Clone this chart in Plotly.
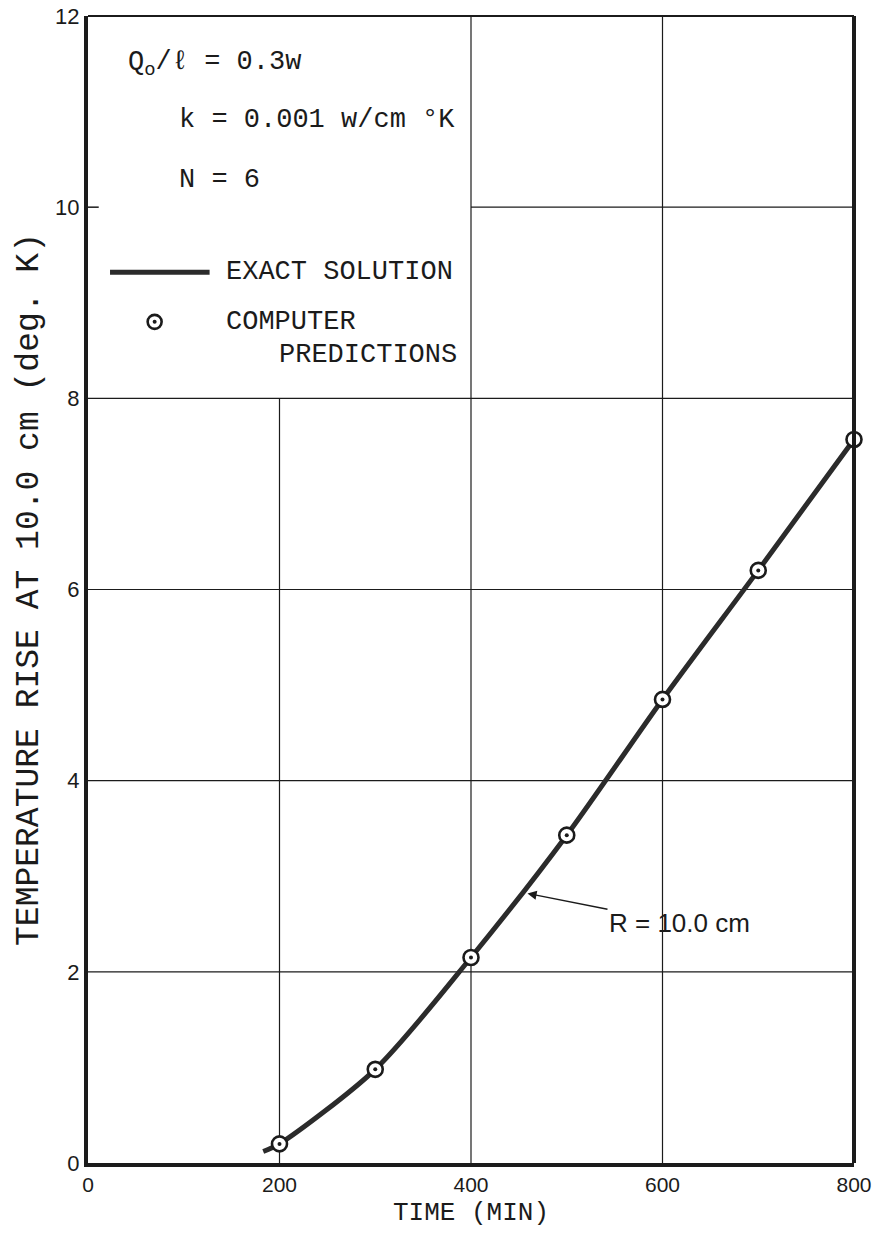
import plotly.graph_objects as go

# ---- data ----
time_min = [200, 300, 400, 500, 600, 700, 800]          # computer predictions (x)
temp_rise = [0.20, 0.98, 2.15, 3.43, 4.85, 6.20, 7.57]   # computer predictions (y)
exact_time = [183, 200, 300, 400, 500, 600, 700, 800]    # exact solution curve (x)
exact_rise = [0.12, 0.20, 0.98, 2.15, 3.43, 4.85, 6.20, 7.57]
x_ticks = [0, 200, 400, 600, 800]
y_ticks = [0, 2, 4, 6, 8, 10, 12]
full_hgrid = [2, 4, 6, 8]
full_vgrid = [400, 600]
arrow_tip = (459, 2.82)

INK = "#1b1b1b"
MONO = "Liberation Mono, DejaVu Sans Mono, monospace"
SANS = "Liberation Sans, Arial, sans-serif"

fig = go.Figure()
fig.add_trace(go.Scatter(
    x=exact_time, y=exact_rise, mode="lines",
    line=dict(color="#2b2b2b", width=5, shape="spline", smoothing=0.8),
    showlegend=False, hoverinfo="skip", cliponaxis=False))
fig.add_trace(go.Scatter(
    x=time_min, y=temp_rise, mode="markers",
    marker=dict(symbol="circle", size=15, color="white", line=dict(color=INK, width=2.6)),
    showlegend=False, cliponaxis=False))
fig.add_trace(go.Scatter(
    x=time_min, y=temp_rise, mode="markers",
    marker=dict(symbol="circle", size=4, color=INK),
    showlegend=False, cliponaxis=False, hoverinfo="skip"))

shapes = []
for yv in full_hgrid:
    shapes.append(dict(type="line", xref="x", yref="y", x0=0, x1=800, y0=yv, y1=yv,
                       line=dict(color=INK, width=1.2), layer="below"))
shapes.append(dict(type="line", xref="x", yref="y", x0=400, x1=800, y0=10, y1=10,
                   line=dict(color=INK, width=1.2), layer="below"))
shapes.append(dict(type="line", xref="x", yref="y", x0=200, x1=200, y0=0, y1=8,
                   line=dict(color=INK, width=1.2), layer="below"))
for xv in full_vgrid:
    shapes.append(dict(type="line", xref="x", yref="y", x0=xv, x1=xv, y0=0, y1=12,
                       line=dict(color=INK, width=1.2), layer="below"))
# borders
shapes.append(dict(type="line", xref="paper", yref="paper", x0=0, x1=1, y0=1, y1=1,
                   line=dict(color=INK, width=2)))
shapes.append(dict(type="line", xref="paper", yref="paper", x0=1, x1=1, y0=0, y1=1,
                   line=dict(color=INK, width=4)))
# short tick at y = 10
shapes.append(dict(type="line", xref="paper", yref="y", x0=0, x1=0.014, y0=10, y1=10,
                   line=dict(color=INK, width=1.5)))
# legend glyphs
shapes.append(dict(type="line", xref="x", yref="y", x0=23, x1=127, y0=9.32, y1=9.32,
                   line=dict(color="#2b2b2b", width=5)))
shapes.append(dict(type="circle", xref="x", yref="y", xsizemode="pixel", ysizemode="pixel",
                   xanchor=69.6, yanchor=8.80, x0=-7, x1=7, y0=-7, y1=7,
                   fillcolor="white", line=dict(color=INK, width=2.6)))
shapes.append(dict(type="circle", xref="x", yref="y", xsizemode="pixel", ysizemode="pixel",
                   xanchor=69.6, yanchor=8.80, x0=-2, x1=2, y0=-2, y1=2,
                   fillcolor=INK, line=dict(color=INK, width=0)))

def txt(x, y, s, size=27, family=MONO, **kw):
    return dict(x=x, y=y, xref="x", yref="y", text=s, showarrow=False,
                xanchor="left", yanchor="middle",
                font=dict(family=family, size=size, color=INK), **kw)

annotations = [
    txt(39.5, 11.50, "Q<sub>o</sub>/ℓ = 0.3w"),
    txt(92.5, 10.91, "k = 0.001 w/cm °K"),
    txt(92.5, 10.28, "N = 6"),
    txt(142, 9.32, "EXACT SOLUTION"),
    txt(142, 8.80, "COMPUTER"),
    txt(197, 8.45, "PREDICTIONS"),
    dict(x=arrow_tip[0], y=arrow_tip[1], xref="x", yref="y", text="R = 10.0 cm",
         showarrow=True, ax=152, ay=30, arrowhead=2, arrowsize=1.3, arrowwidth=1.4,
         arrowcolor=INK, font=dict(family=SANS, size=26, color=INK)),
]

fig.update_layout(
    width=873, height=1241,
    margin=dict(l=88, r=19, t=16, b=78),
    paper_bgcolor="white", plot_bgcolor="white",
    shapes=shapes, annotations=annotations,
    showlegend=False,
)
fig.update_xaxes(
    range=[0, 800], tickvals=x_ticks, ticktext=[str(v) for v in x_ticks],
    showgrid=False, zeroline=False, showline=True, linewidth=4, linecolor=INK,
    ticks="", ticklabeloverflow="allow", automargin=False,
    tickfont=dict(family=SANS, size=21, color=INK),
    title=dict(text="TIME (MIN)", font=dict(family=MONO, size=26, color=INK), standoff=8),
)
fig.update_yaxes(
    range=[0, 12], tickvals=y_ticks, ticktext=[str(v) for v in y_ticks],
    showgrid=False, zeroline=False, showline=True, linewidth=4, linecolor=INK,
    ticks="", ticklabeloverflow="allow", automargin=False,
    tickfont=dict(family=SANS, size=22, color=INK),
    title=dict(text="TEMPERATURE RISE AT 10.0 cm (deg. K)",
               font=dict(family=MONO, size=33, color=INK), standoff=8),
)

fig.write_html("out.html")
